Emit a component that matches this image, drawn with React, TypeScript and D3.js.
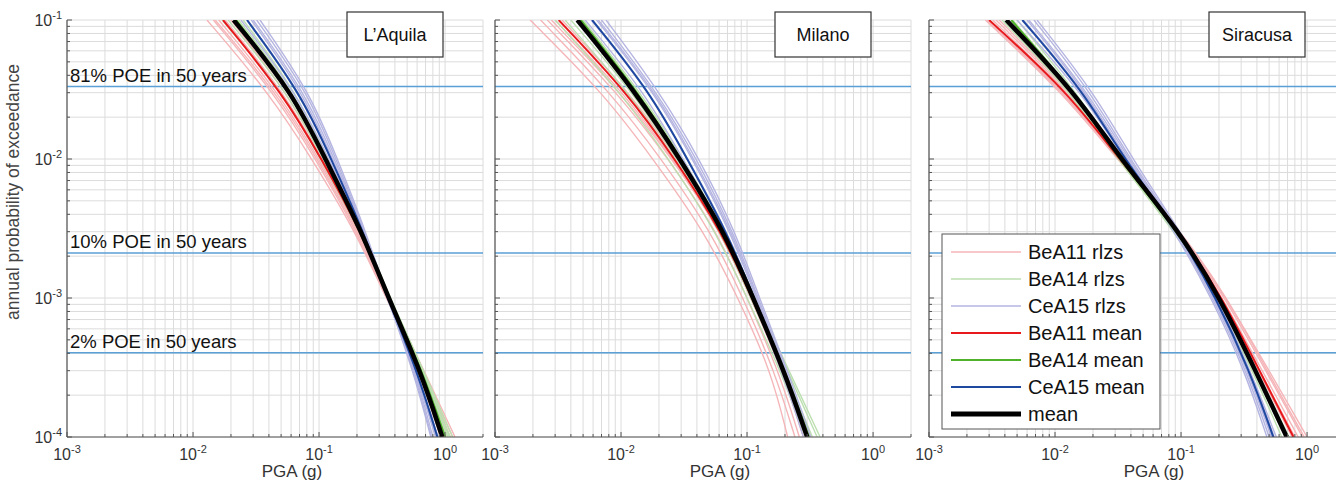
import React from "react";
import * as d3 from "d3";

// Annual probability of exceedance levels at which each curve's PGA (g) is read
const APOE_LEVELS = [1e-1, 3e-2, 1e-2, 3e-3, 1e-3, 3e-4, 1e-4];

const SITES = ["L\u2019Aquila", "Milano", "Siracusa"];

const X_TICKS = [1e-3, 1e-2, 1e-1, 1e0];
const Y_TICKS = [1e-1, 1e-2, 1e-3, 1e-4];

const POE_LABELS = ["81% POE in 50 years", "10% POE in 50 years", "2% POE in 50 years"];
const POE_VALUES = [0.81, 0.1, 0.02];

const LEGEND_LABELS = ["BeA11 rlzs", "BeA14 rlzs", "CeA15 rlzs", "BeA11 mean", "BeA14 mean", "CeA15 mean", "mean"];

// ---------- L'Aquila ----------
const AQ_BEA11_RLZS = [
  [0.0129, 0.040, 0.088, 0.195, 0.34, 0.66, 1.10],
  [0.0145, 0.044, 0.094, 0.200, 0.34, 0.64, 1.02],
  [0.016, 0.048, 0.100, 0.210, 0.35, 0.66, 1.05],
  [0.018, 0.053, 0.106, 0.215, 0.36, 0.68, 1.20],
  [0.020, 0.056, 0.108, 0.212, 0.345, 0.62, 0.92],
  [0.015, 0.046, 0.097, 0.205, 0.345, 0.65, 1.15],
];
const AQ_BEA14_RLZS = [
  [0.017, 0.052, 0.103, 0.212, 0.355, 0.67, 1.10],
  [0.019, 0.057, 0.108, 0.218, 0.36, 0.68, 1.15],
  [0.023, 0.064, 0.113, 0.222, 0.36, 0.66, 1.02],
  [0.025, 0.067, 0.116, 0.224, 0.365, 0.68, 1.08],
  [0.021, 0.060, 0.110, 0.22, 0.362, 0.67, 1.05],
];
const AQ_CEA15_RLZS = [
  [0.024, 0.066, 0.120, 0.222, 0.345, 0.58, 0.84],
  [0.027, 0.072, 0.126, 0.226, 0.348, 0.59, 0.85],
  [0.030, 0.078, 0.132, 0.230, 0.35, 0.58, 0.80],
  [0.032, 0.082, 0.136, 0.232, 0.348, 0.56, 0.77],
  [0.034, 0.085, 0.140, 0.236, 0.35, 0.57, 0.78],
  [0.029, 0.075, 0.128, 0.228, 0.352, 0.60, 0.88],
];
const AQ_BEA11_MEAN = [0.0173, 0.051, 0.105, 0.215, 0.355, 0.65, 0.97];
const AQ_BEA14_MEAN = [0.022, 0.061, 0.11, 0.22, 0.36, 0.66, 1.0];
const AQ_CEA15_MEAN = [0.0268, 0.071, 0.125, 0.225, 0.35, 0.60, 0.87];
const AQ_MEAN = [0.021, 0.062, 0.112, 0.219, 0.355, 0.64, 0.95];

// ---------- Milano ----------
const MI_BEA11_RLZS = [
  [0.0019, 0.0072, 0.018, 0.046, 0.085, 0.155, 0.21],
  [0.0023, 0.0083, 0.021, 0.052, 0.093, 0.165, 0.24],
  [0.0026, 0.0094, 0.024, 0.058, 0.100, 0.178, 0.26],
  [0.0030, 0.0105, 0.026, 0.062, 0.107, 0.19, 0.28],
  [0.0034, 0.0118, 0.028, 0.065, 0.111, 0.197, 0.31],
  [0.0028, 0.0100, 0.0255, 0.063, 0.110, 0.20, 0.32],
];
const MI_BEA14_RLZS = [
  [0.0030, 0.0100, 0.024, 0.057, 0.100, 0.185, 0.29],
  [0.0040, 0.0125, 0.028, 0.064, 0.110, 0.20, 0.33],
  [0.0046, 0.0138, 0.030, 0.067, 0.115, 0.21, 0.36],
  [0.0050, 0.0145, 0.031, 0.068, 0.116, 0.215, 0.38],
  [0.0036, 0.0115, 0.027, 0.062, 0.107, 0.195, 0.31],
];
const MI_CEA15_RLZS = [
  [0.0052, 0.0155, 0.031, 0.066, 0.110, 0.19, 0.28],
  [0.0058, 0.0170, 0.034, 0.070, 0.114, 0.198, 0.30],
  [0.0064, 0.0185, 0.037, 0.074, 0.118, 0.20, 0.30],
  [0.0070, 0.0195, 0.040, 0.078, 0.122, 0.205, 0.31],
  [0.0076, 0.0205, 0.042, 0.081, 0.125, 0.21, 0.32],
  [0.0066, 0.0190, 0.038, 0.076, 0.12, 0.20, 0.31],
];
const MI_BEA11_MEAN = [0.0032, 0.0112, 0.0268, 0.063, 0.110, 0.195, 0.30];
const MI_BEA14_MEAN = [0.0048, 0.0138, 0.030, 0.066, 0.113, 0.20, 0.31];
const MI_CEA15_MEAN = [0.0059, 0.0172, 0.0335, 0.069, 0.114, 0.198, 0.30];
const MI_MEAN = [0.0045, 0.0132, 0.0294, 0.066, 0.112, 0.197, 0.30];

// ---------- Siracusa ----------
const SR_BEA11_RLZS = [
  [0.0028, 0.0115, 0.031, 0.100, 0.23, 0.50, 1.00],
  [0.0030, 0.0120, 0.032, 0.099, 0.225, 0.47, 0.92],
  [0.0032, 0.0125, 0.033, 0.098, 0.215, 0.44, 0.85],
  [0.0034, 0.0130, 0.033, 0.097, 0.205, 0.41, 0.76],
  [0.0036, 0.0135, 0.034, 0.098, 0.21, 0.42, 0.80],
  [0.0029, 0.0118, 0.032, 0.101, 0.235, 0.48, 0.95],
];
const SR_BEA14_RLZS = [
  [0.0038, 0.0135, 0.031, 0.090, 0.19, 0.37, 0.63],
  [0.0042, 0.0140, 0.032, 0.093, 0.198, 0.385, 0.67],
  [0.0046, 0.0145, 0.032, 0.095, 0.205, 0.40, 0.72],
  [0.0050, 0.0150, 0.033, 0.096, 0.205, 0.39, 0.70],
];
const SR_CEA15_RLZS = [
  [0.0050, 0.0165, 0.035, 0.092, 0.18, 0.33, 0.50],
  [0.0056, 0.0175, 0.037, 0.094, 0.185, 0.34, 0.52],
  [0.0062, 0.0185, 0.038, 0.096, 0.19, 0.35, 0.55],
  [0.0068, 0.0195, 0.039, 0.098, 0.19, 0.345, 0.53],
  [0.0072, 0.0205, 0.041, 0.100, 0.195, 0.355, 0.57],
  [0.0060, 0.0180, 0.036, 0.090, 0.175, 0.32, 0.48],
];
const SR_BEA11_MEAN = [0.0030, 0.0128, 0.032, 0.099, 0.212, 0.42, 0.78];
const SR_BEA14_MEAN = [0.0045, 0.0142, 0.032, 0.095, 0.2, 0.39, 0.68];
const SR_CEA15_MEAN = [0.0055, 0.0172, 0.035, 0.096, 0.19, 0.35, 0.54];
const SR_MEAN = [0.0041, 0.0145, 0.033, 0.098, 0.204, 0.39, 0.69];

const PANELS = [
  { rlzs: [AQ_BEA11_RLZS, AQ_BEA14_RLZS, AQ_CEA15_RLZS], means: [AQ_BEA11_MEAN, AQ_BEA14_MEAN, AQ_CEA15_MEAN, AQ_MEAN] },
  { rlzs: [MI_BEA11_RLZS, MI_BEA14_RLZS, MI_CEA15_RLZS], means: [MI_BEA11_MEAN, MI_BEA14_MEAN, MI_CEA15_MEAN, MI_MEAN] },
  { rlzs: [SR_BEA11_RLZS, SR_BEA14_RLZS, SR_CEA15_RLZS], means: [SR_BEA11_MEAN, SR_BEA14_MEAN, SR_CEA15_MEAN, SR_MEAN] },
];

// styles
const FONT = "'Liberation Sans', Arial, Helvetica, sans-serif";
const RLZ_COLORS = ["#f5b5b8", "#bcdfb0", "#b5b5e2"];
const MEAN_COLORS = ["#e8191d", "#4fb22a", "#1f48a0", "#000000"];
const MEAN_WIDTHS = [2, 2, 2, 4.5];
const POE_COLOR = "#5a9fd6";
const GRID = "#dcdcdc";
const AXIS = "#555555";

const W = 1336;
const H = 484;
const PANEL_LEFTS = [67, 495, 929];
const PW = 416;
const TOP = 20;
const BOTTOM = 437;

function minorValues(lo: number, hi: number) {
  const out: number[] = [];
  for (let e = Math.floor(Math.log10(lo)); e <= Math.ceil(Math.log10(hi)); e++) {
    for (let m = 1; m <= 9; m++) {
      const v = m * Math.pow(10, e);
      if (v >= lo * 0.9999 && v <= hi * 1.0001) out.push(v);
    }
  }
  return out;
}

function Pow10Label({ x, y, v, anchor }: { x: number; y: number; v: number; anchor: string }) {
  const e = Math.round(Math.log10(v));
  return (
    <text x={x} y={y} textAnchor={anchor} fontFamily={FONT} fontSize={16} fill="#333">
      10<tspan dy={-7} fontSize={11}>{String(e)}</tspan>
    </text>
  );
}

function Panel({ idx }: { idx: number }) {
  const left = PANEL_LEFTS[idx];
  const xScale = d3.scaleLog().domain([1e-3, 2]).range([left, left + PW]);
  const yScale = d3.scaleLog().domain([1e-4, 1e-1]).range([BOTTOM, TOP]);
  const line = d3
    .line<[number, number]>()
    .x((d) => xScale(d[0]))
    .y((d) => yScale(d[1]))
    .curve(d3.curveBasis);
  const toPts = (arr: number[]) => arr.map((p, i) => [p, APOE_LEVELS[i]] as [number, number]);
  const xs = minorValues(1e-3, 2);
  const ys = minorValues(1e-4, 1e-1);
  const clipId = `clip${idx}`;
  const panel = PANELS[idx];
  return (
    <g>
      <defs>
        <clipPath id={clipId}>
          <rect x={left} y={TOP} width={PW} height={BOTTOM - TOP} />
        </clipPath>
      </defs>
      {xs.map((v, i) => (
        <line key={"gx" + i} x1={xScale(v)} x2={xScale(v)} y1={TOP} y2={BOTTOM} stroke={GRID} strokeWidth={1} />
      ))}
      {ys.map((v, i) => (
        <line key={"gy" + i} x1={left} x2={left + PW} y1={yScale(v)} y2={yScale(v)} stroke={GRID} strokeWidth={1} />
      ))}
      {POE_VALUES.map((p, i) => {
        const apoe = -Math.log(1 - p) / 50;
        return (
          <line key={"poe" + i} x1={left} x2={left + PW} y1={yScale(apoe)} y2={yScale(apoe)} stroke={POE_COLOR} strokeWidth={1.6} />
        );
      })}
      <g clipPath={`url(#${clipId})`}>
        {panel.rlzs.map((group, gi) =>
          group.map((c, ci) => (
            <path key={`r${gi}-${ci}`} d={line(toPts(c)) || ""} fill="none" stroke={RLZ_COLORS[gi]} strokeWidth={1.4} />
          ))
        )}
        {panel.means.map((c, mi) => (
          <path key={`m${mi}`} d={line(toPts(c)) || ""} fill="none" stroke={MEAN_COLORS[mi]} strokeWidth={MEAN_WIDTHS[mi]} />
        ))}
      </g>
      {/* axes */}
      <line x1={left} x2={left} y1={TOP} y2={BOTTOM} stroke={AXIS} strokeWidth={1.2} />
      <line x1={left} x2={left + PW} y1={BOTTOM} y2={BOTTOM} stroke={AXIS} strokeWidth={1.2} />
      {ys.map((v, i) => {
        const major = Math.abs(Math.log10(v) - Math.round(Math.log10(v))) < 1e-9;
        return <line key={"ty" + i} x1={left} x2={left + (major ? 5 : 3)} y1={yScale(v)} y2={yScale(v)} stroke={AXIS} strokeWidth={1} />;
      })}
      {xs.map((v, i) => {
        const major = Math.abs(Math.log10(v) - Math.round(Math.log10(v))) < 1e-9;
        return <line key={"tx" + i} x1={xScale(v)} x2={xScale(v)} y1={BOTTOM} y2={BOTTOM - (major ? 5 : 3)} stroke={AXIS} strokeWidth={1} />;
      })}
      {X_TICKS.map((v, i) => (
        <Pow10Label key={"xl" + i} x={xScale(v)} y={460} v={v} anchor="middle" />
      ))}
      {idx === 0 &&
        Y_TICKS.map((v, i) => <Pow10Label key={"yl" + i} x={left - 5} y={yScale(v) + 6} v={v} anchor="end" />)}
      <text x={xScale(Math.sqrt(1e-3 * 2)) + 17} y={477} textAnchor="middle" fontFamily={FONT} fontSize={17} fill="#333">
        PGA (g)
      </text>
      {idx === 0 &&
        POE_VALUES.map((p, i) => {
          const apoe = -Math.log(1 - p) / 50;
          return (
            <text key={"pl" + i} x={left + 3} y={yScale(apoe) - 5} fontFamily={FONT} fontSize={18.5} fill="#111">
              {POE_LABELS[i]}
            </text>
          );
        })}
      {/* title box */}
      <rect x={left + PW - 136} y={12} width={96} height={45} fill="#fff" stroke="#333" strokeWidth={1.2} />
      <text x={left + PW - 88} y={41} textAnchor="middle" fontFamily={FONT} fontSize={18} fill="#111">
        {SITES[idx]}
      </text>
    </g>
  );
}

function Legend() {
  const x0 = 942;
  const y0 = 234;
  const rowH = 27;
  const colors = [...RLZ_COLORS, ...MEAN_COLORS];
  const widths = [1.5, 1.5, 1.5, ...MEAN_WIDTHS];
  return (
    <g>
      <rect x={x0} y={y0} width={218} height={195} fill="#fff" stroke="#555" strokeWidth={1} />
      {LEGEND_LABELS.map((lab, i) => {
        const cy = y0 + 18 + i * rowH;
        return (
          <g key={lab}>
            <line x1={x0 + 9} x2={x0 + 79} y1={cy} y2={cy} stroke={colors[i]} strokeWidth={i === 6 ? 5 : widths[i]} />
            <text x={x0 + 86} y={cy + 7} fontFamily={FONT} fontSize={20} fill="#111">
              {lab}
            </text>
          </g>
        );
      })}
    </g>
  );
}

export default function App() {
  return (
    <svg width={W} height={H} style={{ position: "absolute", left: 0, top: 0, background: "#fff" }}>
      <rect x={0} y={0} width={W} height={H} fill="#fff" />
      {[0, 1, 2].map((i) => (
        <Panel key={i} idx={i} />
      ))}
      <text
        transform={`translate(19, 192) rotate(-90)`}
        textAnchor="middle"
        fontFamily={FONT}
        fontSize={17.5}
        fill="#444"
      >
        annual probability of exceedance
      </text>
      <Legend />
    </svg>
  );
}
